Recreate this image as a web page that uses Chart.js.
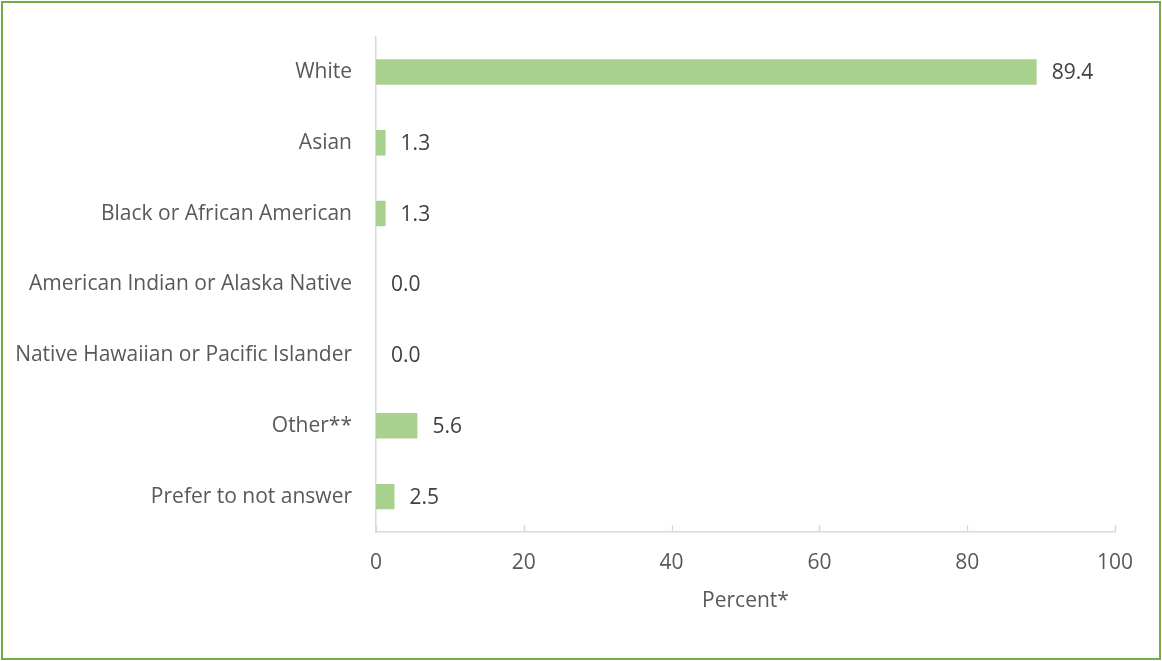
<!DOCTYPE html>
<html>
<head>
<meta charset="utf-8">
<script src="https://cdn.jsdelivr.net/npm/chart.js@4/dist/chart.umd.min.js"></script>
<style>
  html, body { margin: 0; padding: 0; background: #fff; }
  #wrap { width: 1162px; height: 661px; position: relative; }
</style>
</head>
<body>
<div id="wrap"><canvas id="race-chart"></canvas></div>
<script>
const categories = [
    'White',
    'Asian',
    'Black or African American',
    'American Indian or Alaska Native',
    'Native Hawaiian or Pacific Islander',
    'Other**',
    'Prefer to not answer'
];
const percents = [89.4, 1.3, 1.3, 0.0, 0.0, 5.6, 2.5];
const xTicks = [0, 20, 40, 60, 80, 100];
const axisTitle = 'Percent*';

const FONT = '"Open Sans", "Liberation Sans", sans-serif';

// Frame round the whole picture
const framePlugin = {
    id: 'frame',
    afterDraw(chart) {
        const ctx = chart.ctx;
        ctx.save();
        ctx.strokeStyle = '#70ad47';
        ctx.lineWidth = 2;
        ctx.strokeRect(2, 2, chart.width - 4, chart.height - 4);
        ctx.restore();
    }
};

// Small upward tick marks on the x axis
const xTickMarks = {
    id: 'xTickMarks',
    afterDraw(chart) {
        const x = chart.scales.x;
        const ctx = chart.ctx;
        ctx.save();
        ctx.strokeStyle = '#d9d9d9';
        ctx.lineWidth = 1.5;
        xTicks.forEach(v => {
            const px = Math.round(x.getPixelForValue(v)) + 0.5;
            ctx.beginPath();
            ctx.moveTo(px, x.top);
            ctx.lineTo(px, x.top - 7);
            ctx.stroke();
        });
        ctx.restore();
    }
};

// Value labels at the end of each bar
const valueLabels = {
    id: 'valueLabels',
    afterDatasetsDraw(chart) {
        const meta = chart.getDatasetMeta(0);
        const ctx = chart.ctx;
        ctx.save();
        ctx.font = '21px ' + FONT;
        ctx.fillStyle = '#404040';
        ctx.textAlign = 'left';
        ctx.textBaseline = 'middle';
        meta.data.forEach((bar, i) => {
            const { x, y } = bar.getProps(['x', 'y'], true);
            ctx.fillText(percents[i].toFixed(1), x + 15, y + 1);
        });
        ctx.restore();
    }
};

const ctx = document.getElementById('race-chart').getContext('2d');

new Chart(ctx, {
    type: 'bar',
    data: {
        labels: categories,
        datasets: [{
            data: percents,
            backgroundColor: '#a9d18e',
            borderWidth: 0,
            barPercentage: 0.9,
            categoryPercentage: 0.4
        }]
    },
    options: {
        indexAxis: 'y',
        animation: false,
        responsive: true,
        maintainAspectRatio: false,
        layout: { padding: { top: 31, right: 47, left: 0, bottom: 0 } },
        plugins: {
            legend: { display: false },
            tooltip: { enabled: false }
        },
        scales: {
            x: {
                min: 0,
                max: 100,
                afterBuildTicks: (scale) => { scale.ticks = xTicks.map(v => ({ value: v })); },
                afterFit: (scale) => { scale.height = 129; },
                grid: { display: false, drawTicks: false },
                border: { display: true, color: '#d9d9d9', width: 1.5 },
                ticks: {
                    color: '#595959',
                    font: { family: FONT, size: 21 },
                    padding: 18
                },
                title: {
                    display: true,
                    text: axisTitle,
                    color: '#595959',
                    font: { family: FONT, size: 21 },
                    padding: { top: 0, bottom: 47 }
                }
            },
            y: {
                afterFit: (scale) => { scale.width = 376; },
                grid: { display: false, drawTicks: false },
                border: { display: true, color: '#d9d9d9', width: 1.5 },
                ticks: {
                    color: '#595959',
                    font: { family: FONT, size: 21 },
                    padding: 24
                }
            }
        }
    },
    plugins: [framePlugin, xTickMarks, valueLabels]
});
</script>
</body>
</html>
